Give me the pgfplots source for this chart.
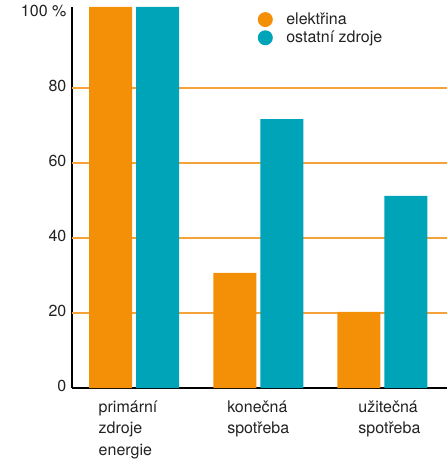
\documentclass[border=0pt]{standalone}
\usepackage{pgfplots}
\pgfplotsset{compat=1.18}
\usepackage{fontspec}
\setmainfont{TeX Gyre Heros}
\definecolor{orangeC}{HTML}{F39008}
\definecolor{tealC}{HTML}{00A4B8}
\definecolor{gridC}{HTML}{F4A23A}
\definecolor{txt}{HTML}{222222}
\begin{document}
\begin{tikzpicture}
\useasboundingbox (-72pt,-74pt) rectangle (375pt,388pt);
\begin{axis}[
  scale only axis,
  width=375pt, height=381pt,
  xmin=-0.5, xmax=2.52,
  ymin=0, ymax=101.6,
  axis lines=left,
  axis line style={line width=1.1pt, black, -},
  xtick={0,1,2},
  xticklabels={{primární\hspace*{12pt}\\zdroje\\energie},{konečná\\spotřeba},{\hspace*{14pt}užitečná\\\hspace*{14pt}spotřeba}},
  xticklabel style={align=left, anchor=north, yshift=-7pt, text=txt},
  xtick style={draw=none},
  ytick={0,20,40,60,80,100},
  yticklabels={0,20,40,60,80,100 \%},
  ytick style={draw=none},
  yticklabel style={text=txt, yshift=2pt},
  tick label style={font=\fontsize{16}{21.5}\selectfont},
  /pgf/number format/assume math mode=true,
  extra y ticks={20,40,60,80},
  extra y tick labels={},
  extra y tick style={grid=major, major grid style={gridC, line width=1.1pt}, tick style={draw=none}},
  legend style={draw=none, fill=none, at={(rel axis cs:0.495,0.99)}, anchor=north west,
    font=\fontsize{16}{19}\selectfont, text=txt, row sep=1pt, inner sep=0pt,
    legend cell align=left},
  legend image code/.code={\fill[#1] (0pt,0pt) circle (7.5pt); \path (19pt,0pt);},
]
\addplot[ybar, fill=orangeC, draw=none, bar width=43pt, bar shift=-23.5pt] coordinates {(0,101.6) (1,30.7) (2,20.3)};
\addplot[ybar, fill=tealC, draw=none, bar width=43pt, bar shift=23.5pt] coordinates {(0,101.6) (1,71.7) (2,51.2)};
\legend{elektřina, ostatní zdroje}
\end{axis}
\end{tikzpicture}
\end{document}
